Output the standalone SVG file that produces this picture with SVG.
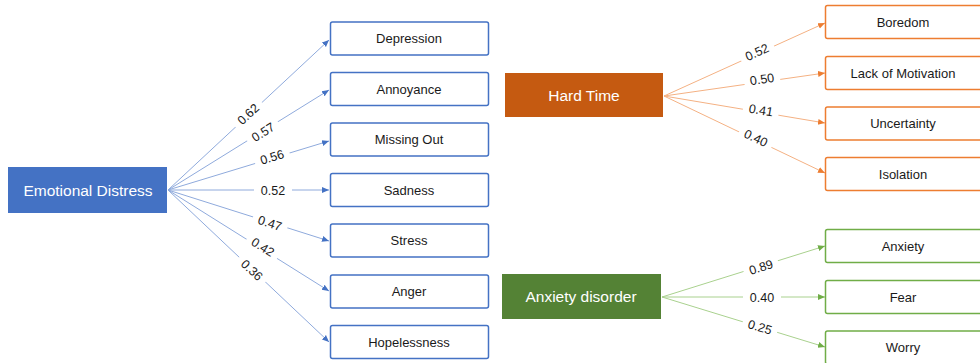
<svg xmlns="http://www.w3.org/2000/svg" width="980" height="363" viewBox="0 0 980 363">
<defs>
<style>
.lbl{font-family:"Liberation Sans",Arial,sans-serif;font-size:13px;fill:#1a1a1a;text-anchor:middle}
.hdr{font-family:"Liberation Sans",Arial,sans-serif;font-size:15.5px;fill:#ffffff;text-anchor:middle}
.num{font-family:"Liberation Sans",Arial,sans-serif;font-size:12.5px;fill:#1a1a1a;text-anchor:middle}
.bbox{fill:#fff;stroke:#4472C4;stroke-width:1.5}
.obox{fill:#fff;stroke:#ED7D31;stroke-width:1.5}
.gbox{fill:#fff;stroke:#70AD47;stroke-width:1.5}
.bl{stroke:#8FAADC;stroke-width:1;fill:none;marker-end:url(#ab)}
.ol{stroke:#F4B183;stroke-width:1;fill:none;marker-end:url(#ao)}
.gl{stroke:#A9D18E;stroke-width:1;fill:none;marker-end:url(#ag)}
.gap{fill:#fff}
</style>
<marker id="ab" markerUnits="userSpaceOnUse" markerWidth="8" markerHeight="8" refX="7" refY="4" orient="auto"><path d="M0,1 L7,4 L0,7 Z" fill="#4472C4"/></marker>
<marker id="ao" markerUnits="userSpaceOnUse" markerWidth="8" markerHeight="8" refX="7" refY="4" orient="auto"><path d="M0,1 L7,4 L0,7 Z" fill="#ED7D31"/></marker>
<marker id="ag" markerUnits="userSpaceOnUse" markerWidth="8" markerHeight="8" refX="7" refY="4" orient="auto"><path d="M0,1 L7,4 L0,7 Z" fill="#70AD47"/></marker>
</defs>
<rect width="980" height="363" fill="#fff"/>

<g id="connectors">
<line class="bl" x1="168" y1="190" x2="329" y2="40"/>
<line class="bl" x1="168" y1="190" x2="329" y2="90"/>
<line class="bl" x1="168" y1="190" x2="329" y2="141"/>
<line class="bl" x1="168" y1="190" x2="329" y2="190"/>
<line class="bl" x1="168" y1="190" x2="329" y2="241"/>
<line class="bl" x1="168" y1="190" x2="329" y2="291"/>
<line class="bl" x1="168" y1="190" x2="329" y2="342"/>
<line class="ol" x1="664" y1="96" x2="825" y2="23"/>
<line class="ol" x1="664" y1="96" x2="825" y2="73"/>
<line class="ol" x1="664" y1="96" x2="825" y2="123"/>
<line class="ol" x1="664" y1="96" x2="825" y2="173"/>
<line class="gl" x1="662" y1="297" x2="825" y2="246"/>
<line class="gl" x1="662" y1="297" x2="825" y2="297"/>
<line class="gl" x1="662" y1="297" x2="825" y2="347"/>

<g transform="translate(248,114) rotate(-43)"><rect class="gap" x="-18" y="-7" width="36" height="14"/><text class="num" y="4.5">0.62</text></g>
<g transform="translate(263,132) rotate(-31.7)"><rect class="gap" x="-18" y="-7" width="36" height="14"/><text class="num" y="4.5">0.57</text></g>
<g transform="translate(272,157) rotate(-16.7)"><rect class="gap" x="-18" y="-7" width="36" height="14"/><text class="num" y="4.5">0.56</text></g>
<g transform="translate(273,190)"><rect class="gap" x="-19" y="-7" width="38" height="14"/><text class="num" y="4.5">0.52</text></g>
<g transform="translate(270,223) rotate(17.8)"><rect class="gap" x="-18" y="-7" width="36" height="14"/><text class="num" y="4.5">0.47</text></g>
<g transform="translate(263,247) rotate(32.2)"><rect class="gap" x="-18" y="-7" width="36" height="14"/><text class="num" y="4.5">0.42</text></g>
<g transform="translate(252,270) rotate(43.5)"><rect class="gap" x="-18" y="-7" width="36" height="14"/><text class="num" y="4.5">0.36</text></g>

<g transform="translate(757,52) rotate(-24.5)"><rect class="gap" x="-18" y="-7" width="36" height="14"/><text class="num" y="4.5">0.52</text></g>
<g transform="translate(762,79) rotate(-8.2)"><rect class="gap" x="-18" y="-7" width="36" height="14"/><text class="num" y="4.5">0.50</text></g>
<g transform="translate(761,110) rotate(9.6)"><rect class="gap" x="-18" y="-7" width="36" height="14"/><text class="num" y="4.5">0.41</text></g>
<g transform="translate(756,138) rotate(25.7)"><rect class="gap" x="-18" y="-7" width="36" height="14"/><text class="num" y="4.5">0.40</text></g>

<g transform="translate(761,267) rotate(-17.5)"><rect class="gap" x="-18" y="-7" width="36" height="14"/><text class="num" y="4.5">0.89</text></g>
<g transform="translate(762,297)"><rect class="gap" x="-19" y="-7" width="38" height="14"/><text class="num" y="4.5">0.40</text></g>
<g transform="translate(760,327) rotate(17.1)"><rect class="gap" x="-18" y="-7" width="36" height="14"/><text class="num" y="4.5">0.25</text></g>
</g>

<g id="emotional-distress"><rect x="8" y="167" width="159" height="46" fill="#4472C4"/><text class="hdr" x="88" y="195.5">Emotional Distress</text></g>
<g id="depression"><rect class="bbox" x="330.5" y="22" width="158" height="33" rx="2"/><text class="lbl" x="409" y="43">Depression</text></g>
<g id="annoyance"><rect class="bbox" x="330.5" y="72.5" width="158" height="33" rx="2"/><text class="lbl" x="409" y="93.5">Annoyance</text></g>
<g id="missing-out"><rect class="bbox" x="330.5" y="123" width="158" height="33" rx="2"/><text class="lbl" x="409" y="144">Missing Out</text></g>
<g id="sadness"><rect class="bbox" x="330.5" y="173.5" width="158" height="33" rx="2"/><text class="lbl" x="409" y="194.5">Sadness</text></g>
<g id="stress"><rect class="bbox" x="330.5" y="224" width="158" height="33" rx="2"/><text class="lbl" x="409" y="245">Stress</text></g>
<g id="anger"><rect class="bbox" x="330.5" y="275" width="158" height="33" rx="2"/><text class="lbl" x="409" y="296">Anger</text></g>
<g id="hopelessness"><rect class="bbox" x="330.5" y="325.5" width="158" height="33" rx="2"/><text class="lbl" x="409" y="346.5">Hopelessness</text></g>

<g id="hard-time"><rect x="505" y="73" width="158" height="44" fill="#C55A11"/><text class="hdr" x="584" y="101">Hard Time</text></g>
<g id="boredom"><rect class="obox" x="825.5" y="5.5" width="158" height="33" rx="2"/><text class="lbl" x="903" y="26.5">Boredom</text></g>
<g id="lack-of-motivation"><rect class="obox" x="825.5" y="56.5" width="158" height="33" rx="2"/><text class="lbl" x="903" y="77.5">Lack of Motivation</text></g>
<g id="uncertainty"><rect class="obox" x="825.5" y="107" width="158" height="33" rx="2"/><text class="lbl" x="903" y="128">Uncertainty</text></g>
<g id="isolation"><rect class="obox" x="825.5" y="157.5" width="158" height="33" rx="2"/><text class="lbl" x="903" y="178.5">Isolation</text></g>

<g id="anxiety-disorder"><rect x="502" y="274" width="159" height="45" fill="#548235"/><text class="hdr" x="581" y="302">Anxiety disorder</text></g>
<g id="anxiety"><rect class="gbox" x="825.5" y="229.5" width="158" height="33" rx="2"/><text class="lbl" x="903" y="250.5">Anxiety</text></g>
<g id="fear"><rect class="gbox" x="825.5" y="280.5" width="158" height="33" rx="2"/><text class="lbl" x="903" y="301.5">Fear</text></g>
<g id="worry"><rect class="gbox" x="825.5" y="331" width="158" height="33" rx="2"/><text class="lbl" x="903" y="352">Worry</text></g>
</svg>
